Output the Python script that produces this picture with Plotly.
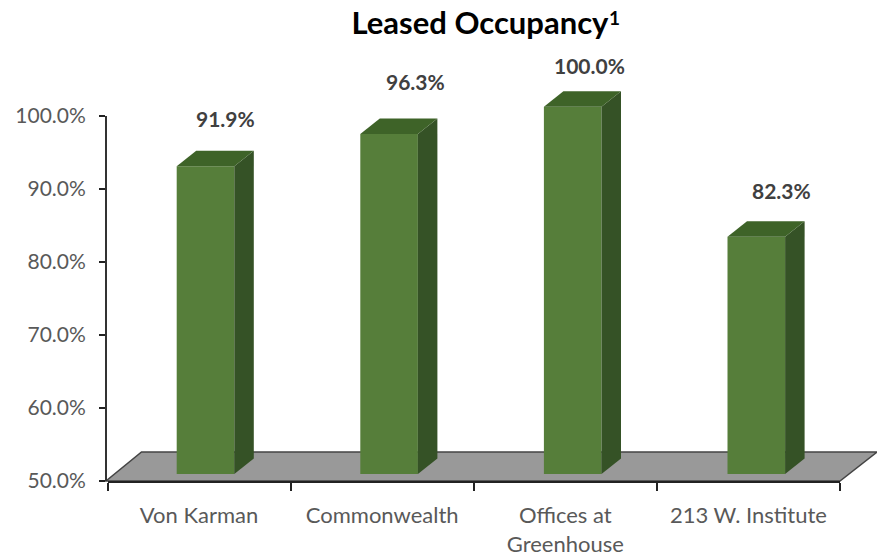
import plotly.graph_objects as go

# Data
categories = ["Von Karman", "Commonwealth", "Offices at<br>Greenhouse", "213 W. Institute"]
occupancy = [91.9, 96.3, 100.0, 82.3]
label_dx = [20, 26, 17, 25]
label_dy = [48, 52, 41, 46]

W, H = 877, 556
FLOOR_VALUE = 50

# Geometry of the pseudo-3D projection (page pixels)
ax_left, ax_right, ax_top, ax_bottom = 107.5, 840, 116, 481
y_axis_x = 106
bar0_c, bar_step, bar_w = 205.5, 183.6, 57.6
bar_bottom, px_per_pct = 474, 7.346
depth_x, depth_y = 19.5, 15.5
floor_back_y, floor_dx_left, floor_dx_right = 452, 34, 37

px = lambda x: x / W
py = lambda y: 1 - y / H

FRONT, TOP, SIDE = "#567E3A", "#3E6328", "#355226"

idx = list(range(len(categories)))
dxu = depth_x / bar_step
dyu = depth_y / px_per_pct
hw = bar_w / 2 / bar_step

fig = go.Figure()

# Invisible trace so that the visible category axis exists
fig.add_trace(go.Scatter(x=categories, y=occupancy, mode="none", xaxis="x", yaxis="y",
                         showlegend=False, hoverinfo="skip"))

# Side and top faces, derived from the values
for i, v in zip(idx, occupancy):
    r = i + hw
    l = i - hw
    fig.add_trace(go.Scatter(
        x=[r, r + dxu, r + dxu, r, r], y=[FLOOR_VALUE, FLOOR_VALUE + dyu, v + dyu, v, FLOOR_VALUE],
        mode="lines", fill="toself", fillcolor=SIDE, line=dict(width=0), xaxis="x2", yaxis="y2",
        showlegend=False, hoverinfo="skip"))
    fig.add_trace(go.Scatter(
        x=[l, r, r + dxu, l + dxu, l], y=[v, v, v + dyu, v + dyu, v],
        mode="lines", fill="toself", fillcolor=TOP, line=dict(width=0), xaxis="x2", yaxis="y2",
        showlegend=False, hoverinfo="skip"))

# Front faces
fig.add_trace(go.Bar(x=idx, y=[v - FLOOR_VALUE for v in occupancy], base=FLOOR_VALUE,
                     width=bar_w / bar_step, marker=dict(color=FRONT, line=dict(width=0)),
                     xaxis="x2", yaxis="y2", showlegend=False, hoverinfo="skip"))

# Data labels
for i, v, dx, dy in zip(idx, occupancy, label_dx, label_dy):
    fig.add_annotation(x=i, y=v, xref="x2", yref="y2", text=f"{v:.1f}%", showarrow=False,
                       xshift=dx, yshift=dy, xanchor="center", yanchor="middle",
                       font=dict(family="Lato", size=21, color="#404040", weight="bold"))

# Footnote marker of the title
fig.add_annotation(x=px(614.5), y=py(17), xref="paper", yref="paper", text="<b>1</b>",
                   showarrow=False, xanchor="center", yanchor="middle",
                   font=dict(family="Lato", size=19, color="black"))

# Floor
floor_path = (f"M{px(y_axis_x)},{py(ax_bottom)} L{px(ax_right)},{py(ax_bottom)} "
              f"L{px(ax_right + floor_dx_right)},{py(floor_back_y)} "
              f"L{px(ax_left + floor_dx_left)},{py(floor_back_y)} Z")
fig.add_shape(type="path", path=floor_path, xref="paper", yref="paper", layer="below",
              fillcolor="#999999", line=dict(color="#444444", width=1.5))

fig.update_layout(
    width=W, height=H, margin=dict(l=0, r=0, t=0, b=0, pad=0, autoexpand=False),
    paper_bgcolor="white", plot_bgcolor="rgba(0,0,0,0)", showlegend=False,
    title=dict(text="<b>Leased Occupancy</b>", x=px(480), y=py(23),
               xanchor="center", yanchor="middle",
               font=dict(family="Lato", size=31, color="black")),
    xaxis=dict(domain=[px(ax_left), px(ax_right)], type="category", categoryorder="array",
               categoryarray=categories, range=[-0.5, len(categories) - 0.5], tickson="boundaries",
               ticks="outside", ticklen=8, tickwidth=1.5, tickcolor="#222222",
               showline=True, linecolor="#222222", linewidth=1.5, showgrid=False, zeroline=False,
               ticklabelstandoff=14,
               tickfont=dict(family="Lato", size=22, color="#595959"), anchor="y"),
    yaxis=dict(domain=[py(ax_bottom), py(ax_top)], range=[50, 100], dtick=10, tick0=50,
               tickformat=".1f", ticksuffix="%", ticks="outside", ticklen=6, tickwidth=1.5,
               tickcolor="#222222", showline=True, linecolor="#333333", linewidth=2,
               showgrid=False, zeroline=False, ticklabelstandoff=9,
               tickfont=dict(family="Lato", size=21, color="#595959"),
               anchor="free", position=px(y_axis_x)),
    xaxis2=dict(domain=[0, 1],
                range=[-bar0_c / bar_step, (W - bar0_c) / bar_step],
                visible=False, anchor="y2", fixedrange=True),
    yaxis2=dict(domain=[0, 1],
                range=[FLOOR_VALUE + (bar_bottom - H) / px_per_pct,
                       FLOOR_VALUE + bar_bottom / px_per_pct],
                visible=False, anchor="x2", fixedrange=True),
)

fig.write_html("out.html", config={"displayModeBar": False},
               post_script="document.body.style.margin='0';")
